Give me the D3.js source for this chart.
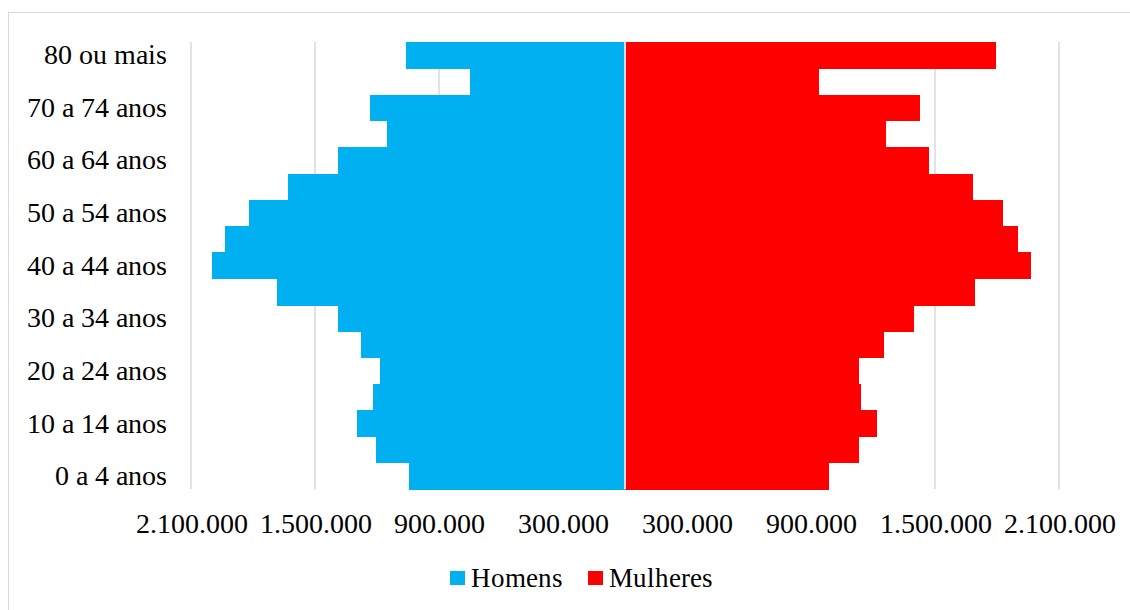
<!DOCTYPE html>
<html>
<head>
<meta charset="utf-8">
<script src="https://cdn.jsdelivr.net/npm/d3@7"></script>
<style>
  @font-face {
    font-family: "ChartSerif";
    src: local("Liberation Serif"), local("LiberationSerif"), local("LiberationSerif-Regular"),
         local("Times New Roman"), local("DejaVu Serif"), local("DejaVuSerif");
  }
  html, body { margin: 0; padding: 0; background: #fff; }
  svg { display: block; }
</style>
</head>
<body>
<svg id="chart" width="1130" height="610"></svg>
<script>
// Age groups, youngest first
const categories = [
  "0 a 4 anos", "5 a 9 anos", "10 a 14 anos", "15 a 19 anos", "20 a 24 anos",
  "25 a 29 anos", "30 a 34 anos", "35 a 39 anos", "40 a 44 anos", "45 a 49 anos",
  "50 a 54 anos", "55 a 59 anos", "60 a 64 anos", "65 a 69 anos", "70 a 74 anos",
  "75 a 79 anos", "80 ou mais"
];
// Population by sex for each age group
const homens = [
  1045000, 1205000, 1298000, 1219000, 1184000,
  1276000, 1387000, 1684000, 2000000, 1937000,
  1819000, 1632000, 1387000, 1152000, 1234000,
  750000, 1058000
];
const mulheres = [
  986000, 1132000, 1218000, 1142000, 1131000,
  1252000, 1397000, 1692000, 1963000, 1902000,
  1829000, 1684000, 1471000, 1264000, 1427000,
  940000, 1795000
];
const tickValues = [-2100000, -1500000, -900000, -300000, 300000, 900000, 1500000, 2100000];
const seriesNames = ["Homens", "Mulheres"];
const seriesColors = ["#00B0F0", "#FF0000"];

const FONT = "ChartSerif, 'Liberation Serif', 'Times New Roman', 'DejaVu Serif', serif";

const svg = d3.select("#chart");
const gridColor = "#d9d9d9";

// Outer chart frame
svg.append("rect")
  .attr("x", 8.5).attr("y", 12.5)
  .attr("width", 1140).attr("height", 620)
  .attr("fill", "#fff").attr("stroke", gridColor).attr("stroke-width", 1);

const plot = { left: 191, right: 1059, top: 42, bottom: 489.3 };

const x = d3.scaleLinear()
  .domain([-2100000, 2100000])
  .range([plot.left, plot.right]);

const y = d3.scaleBand()
  .domain(categories.slice().reverse())
  .range([plot.top, plot.bottom])
  .padding(0);

const ptBR = d3.formatLocale({ decimal: ",", thousands: ".", grouping: [3], currency: ["R$", ""] });
const fmt = ptBR.format(",.0f");

// Vertical gridlines
svg.append("g")
  .selectAll("line")
  .data(tickValues)
  .join("line")
  .attr("x1", d => x(d)).attr("x2", d => x(d))
  .attr("y1", plot.top).attr("y2", plot.bottom)
  .attr("stroke", gridColor).attr("stroke-width", 1.5);

// Bars: men to the left, women to the right
const rows = categories.map((c, i) => ({ c, h: homens[i], m: mulheres[i] }));

svg.append("g")
  .attr("shape-rendering", "crispEdges")
  .selectAll("rect")
  .data(rows)
  .join("rect")
  .attr("x", d => x(-d.h))
  .attr("y", d => y(d.c))
  .attr("width", d => x(0) - x(-d.h))
  .attr("height", y.bandwidth() + 0.5)
  .attr("fill", seriesColors[0]);

svg.append("g")
  .attr("shape-rendering", "crispEdges")
  .selectAll("rect")
  .data(rows)
  .join("rect")
  .attr("x", x(0))
  .attr("y", d => y(d.c))
  .attr("width", d => x(d.m) - x(0))
  .attr("height", y.bandwidth() + 0.5)
  .attr("fill", seriesColors[1]);

// Central axis line
svg.append("line")
  .attr("x1", x(0)).attr("x2", x(0))
  .attr("y1", plot.top).attr("y2", plot.bottom)
  .attr("stroke", gridColor).attr("stroke-width", 2);

// Category axis (every other label)
const yAxis = d3.axisLeft(y)
  .tickValues(categories.filter((c, i) => i % 2 === 0))
  .tickSize(0)
  .tickPadding(24);
const gy = svg.append("g")
  .attr("transform", `translate(${plot.left},0)`)
  .call(yAxis)
  .attr("font-family", FONT)
  .attr("font-size", 27.5);
gy.select(".domain").remove();
gy.selectAll("text")
  .attr("fill", "#000")
  .attr("dy", "0.33em");

// Value axis
const xAxis = d3.axisBottom(x)
  .tickValues(tickValues)
  .tickFormat(d => fmt(Math.abs(d)))
  .tickSize(0)
  .tickPadding(24);
const gx = svg.append("g")
  .attr("transform", `translate(0,${plot.bottom})`)
  .call(xAxis)
  .attr("font-family", FONT)
  .attr("font-size", 27.5);
gx.select(".domain").remove();
gx.selectAll("text")
  .attr("fill", "#000")
  .attr("dy", "0.71em");

// Legend
const legendItems = [
  { name: seriesNames[0], color: seriesColors[0], x: 450 },
  { name: seriesNames[1], color: seriesColors[1], x: 588 }
];
const lg = svg.append("g")
  .attr("font-family", FONT)
  .attr("font-size", 27);
legendItems.forEach(item => {
  lg.append("rect")
    .attr("x", item.x).attr("y", 571)
    .attr("width", 15).attr("height", 14)
    .attr("fill", item.color);
  lg.append("text")
    .attr("x", item.x + 21).attr("y", 587)
    .attr("fill", "#000")
    .text(item.name);
});
</script>
</body>
</html>
